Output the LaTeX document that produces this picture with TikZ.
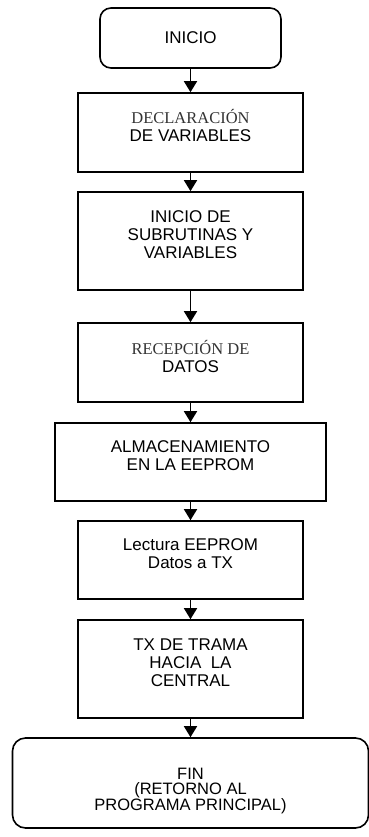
\documentclass[tikz,border=0pt]{standalone}
\usepackage{fontspec}
\setmainfont{Liberation Sans}
\newfontfamily\altserif{Liberation Serif}
\usetikzlibrary{arrows.meta,positioning}

\begin{document}
\begin{tikzpicture}[x=1pt, y=-1pt, line width=1.6pt,
    >={Triangle[width=13pt,length=11pt]},
    box/.style={draw, rectangle, inner sep=0pt, minimum width=225pt, minimum height=#1},
    term/.style={draw, rectangle, rounded corners=11pt, inner sep=0pt},
    txt/.style={align=center, inner sep=0pt, font=\fontsize{17}{18}\selectfont}]

        \useasboundingbox (0,0) rectangle (369,837);

        % Boxes
        \node[term, minimum width=181pt, minimum height=60pt] (inicio) at (190.5,38) {};
        \node[box=79pt] (decl) at (190.5,132.5) {};
        \node[box=98pt] (subr) at (190.5,241) {};
        \node[box=79pt] (recep) at (190.5,362.5) {};
        \node[box=78pt, minimum width=271pt] (alm) at (190.5,462) {};
        \node[box=78pt] (lect) at (190.5,560) {};
        \node[box=98pt] (trama) at (190.5,669) {};
        \node[term, rounded corners=13pt, minimum width=356pt, minimum height=90pt] (fin) at (190.5,783) {};

        % Texts
        \node[txt] (inicioT) at (190.5,38) {INICIO};
        \node[txt] (declT) at (190.5,126) {{\altserif\color{black!80}\fontsize{16.5}{18}\selectfont DECLARACIÓN}\\DE VARIABLES};
        \node[txt] (subrT) at (190.5,235) {INICIO DE\\SUBRUTINAS Y\\VARIABLES};
        \node[txt] (recepT) at (190.5,356) {{\altserif\color{black!80}\fontsize{16.5}{18}\selectfont RECEPCIÓN DE}\\DATOS};
        \node[txt] (almT) at (190.5,456) {ALMACENAMIENTO\\EN LA EEPROM};
        \node[txt] (lectT) at (190.5,554) {Lectura EEPROM\\Datos a TX};
        \node[txt] (tramaT) at (190.5,663) {TX DE TRAMA\\HACIA\ \ LA\\CENTRAL};
        \node[txt, font=\fontsize{16.5}{15.5}\selectfont] (finT) at (190.5,791) {FIN\\(RETORNO AL\\PROGRAMA PRINCIPAL)};

        % Flow
        \draw[->] (inicio) -- (decl);
        \draw[->] (decl) -- (subr);
        \draw[->] (subr) -- (recep);
        \draw[->] (recep) -- (alm);
        \draw[->] (alm) -- (lect);
        \draw[->] (lect) -- (trama);
        \draw[->] (trama) -- (fin);

\end{tikzpicture}
\end{document}
